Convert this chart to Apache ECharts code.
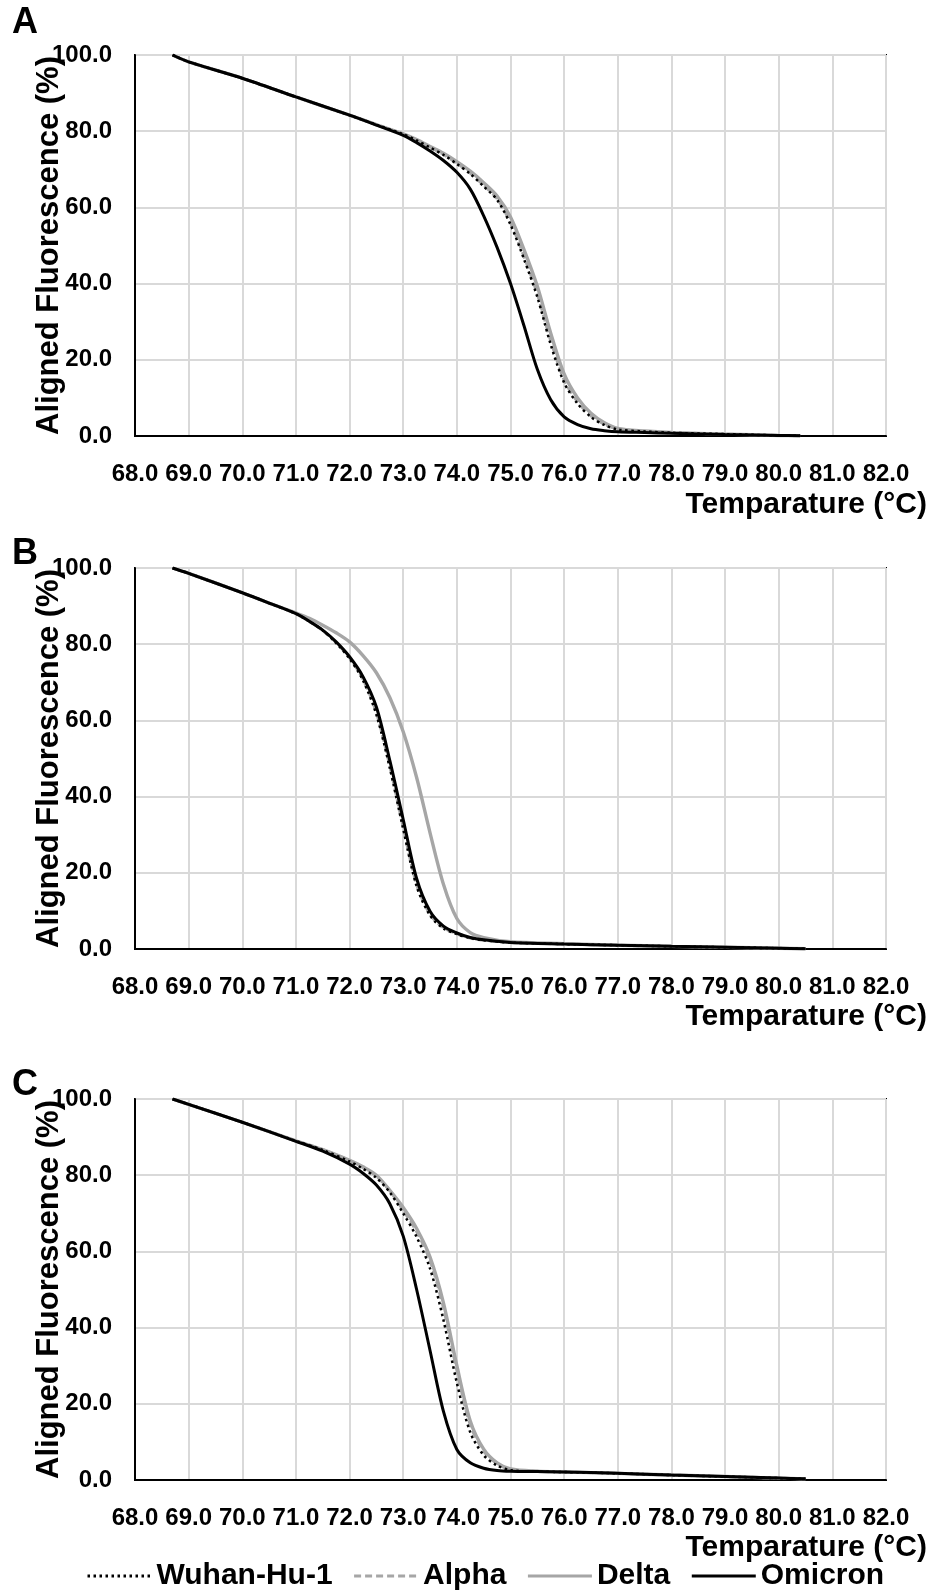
<!DOCTYPE html>
<html>
<head>
<meta charset="utf-8">
<script src="https://cdn.jsdelivr.net/npm/echarts@6/dist/echarts.min.js"></script>
<style>
html,body{margin:0;padding:0;background:#fff;}
#chart{width:931px;height:1593px;}
</style>
</head>
<body>
<div id="chart"></div>
<script>
// ---------- DATA ----------
const seriesNames = ['Wuhan-Hu-1', 'Alpha', 'Delta', 'Omicron'];
const panelLetters = ['A', 'B', 'C'];
const xTickMin = 68, xTickMax = 82, xTickStep = 1;
const yTickMin = 0, yTickMax = 100, yTickStep = 20;
const xAxisTitle = 'Temparature (°C)';
const yAxisTitle = 'Aligned Fluorescence (%)';

// Panel A
const tempA    = [68.7, 69, 70, 71, 72, 72.5, 73, 73.25, 73.5, 73.75, 74, 74.25, 74.5, 74.75, 75, 75.25, 75.5, 75.75, 76, 76.25, 76.5, 76.75, 77, 77.5, 78, 79, 80, 80.4];
const wuhanA   = [100, 98.2, 93.9, 89.0, 84.2, 81.7, 79.2, 77.6, 75.7, 73.8, 71.4, 68.8, 65.5, 62.0, 55.5, 46.5, 36.5, 24.0, 14.0, 8.5, 5.0, 2.9, 1.7, 1.2, 0.85, 0.5, 0.15, 0.05];
const alphaA   = [100, 98.2, 93.9, 89.0, 84.2, 81.7, 79.2, 77.6, 75.8, 73.9, 71.6, 69.0, 65.8, 62.3, 56.0, 47.2, 37.3, 25.0, 14.8, 9.0, 5.3, 3.1, 1.8, 1.2, 0.85, 0.5, 0.15, 0.05];
const deltaA   = [100, 98.2, 93.9, 89.0, 84.2, 81.7, 79.3, 77.8, 76.0, 74.2, 72.0, 69.5, 66.5, 63.0, 57.5, 49.0, 39.3, 27.0, 16.3, 10.0, 6.0, 3.5, 2.0, 1.3, 0.9, 0.5, 0.15, 0.05];
const omicronA = [100, 98.2, 93.9, 89.0, 84.2, 81.6, 78.9, 77.0, 74.8, 72.3, 69.2, 64.8, 57.8, 49.5, 40.0, 29.0, 17.5, 9.5, 5.0, 3.0, 1.9, 1.4, 1.1, 0.9, 0.7, 0.4, 0.15, 0.05];

// Panel B
const tempB    = [68.7, 69, 70, 70.5, 71, 71.25, 71.5, 71.75, 72, 72.25, 72.5, 72.75, 73, 73.25, 73.5, 73.75, 74, 74.25, 74.5, 75, 76, 77, 78, 79, 80, 80.5];
const wuhanB   = [100, 98.6, 93.5, 90.8, 88.0, 86.0, 83.6, 80.3, 76.2, 70.5, 61.5, 47.5, 31.5, 16.5, 8.8, 5.4, 3.9, 2.9, 2.3, 1.7, 1.3, 1.0, 0.7, 0.45, 0.2, 0.05];
const alphaB   = [100, 98.6, 93.5, 90.8, 88.0, 86.0, 83.6, 80.4, 76.4, 70.8, 62.0, 48.0, 32.0, 17.0, 9.1, 5.6, 4.0, 2.9, 2.3, 1.7, 1.3, 1.0, 0.7, 0.45, 0.2, 0.05];
const deltaB   = [100, 98.6, 93.5, 90.8, 88.2, 86.8, 85.0, 83.0, 80.6, 77.0, 72.5, 66.0, 57.0, 45.0, 30.5, 17.0, 8.0, 4.3, 3.0, 1.9, 1.4, 1.0, 0.7, 0.45, 0.2, 0.05];
const omicronB = [100, 98.6, 93.5, 90.8, 88.0, 86.0, 83.7, 80.6, 76.7, 71.5, 63.5, 49.5, 34.0, 18.5, 9.9, 6.0, 4.2, 3.0, 2.4, 1.7, 1.3, 1.0, 0.7, 0.45, 0.2, 0.05];

// Panel C
const tempC    = [68.7, 69, 70, 71, 71.5, 72, 72.25, 72.5, 72.75, 73, 73.25, 73.5, 73.75, 74, 74.25, 74.5, 74.75, 75, 75.5, 76, 77, 78, 79, 80, 80.5];
const wuhanC   = [100, 98.6, 93.9, 89.0, 86.6, 83.6, 81.7, 79.3, 75.5, 70.0, 63.8, 55.5, 42.0, 25.5, 12.5, 6.5, 3.8, 2.6, 2.2, 2.1, 1.75, 1.3, 0.9, 0.5, 0.3];
const alphaC   = [100, 98.6, 93.9, 89.0, 86.7, 83.8, 82.0, 79.8, 75.9, 70.8, 65.2, 57.6, 45.2, 28.8, 14.5, 7.6, 4.3, 2.8, 2.3, 2.1, 1.75, 1.3, 0.9, 0.5, 0.3];
const deltaC   = [100, 98.6, 93.9, 89.0, 86.7, 83.9, 82.2, 80.0, 76.0, 71.5, 66.0, 58.5, 46.5, 30.0, 15.5, 8.1, 4.5, 2.9, 2.3, 2.1, 1.75, 1.3, 0.9, 0.5, 0.3];
const omicronC = [100, 98.6, 93.9, 88.9, 86.3, 82.9, 80.5, 77.4, 72.5, 64.0, 50.0, 34.0, 18.0, 8.0, 4.5, 3.1, 2.5, 2.3, 2.2, 2.1, 1.75, 1.3, 0.9, 0.5, 0.3];

// ---------- LAYOUT / STYLE ----------
const FONT = "'Liberation Sans', Arial, sans-serif";
const GRAY = '#a6a6a6';
const panelTops = [55, 568, 1099];
const panelH = 381;
const gridLeft = 135, gridRight = 45;

const panels = [
  {temps: tempA, vals: [wuhanA, alphaA, deltaA, omicronA]},
  {temps: tempB, vals: [wuhanB, alphaB, deltaB, omicronB]},
  {temps: tempC, vals: [wuhanC, alphaC, deltaC, omicronC]}
];

const styles = {
  'Wuhan-Hu-1': {color: '#000000', width: 2.5, type: [2.5, 3.5], z: 4},
  'Alpha':      {color: GRAY,      width: 3,   type: [7, 4],     z: 3},
  'Delta':      {color: GRAY,      width: 3.4, type: 'solid',    z: 2},
  'Omicron':    {color: '#000000', width: 3,   type: 'solid',    z: 5}
};

const grids = [], xAxes = [], yAxes = [], series = [], graphics = [];

panels.forEach((p, i) => {
  grids.push({
    left: gridLeft, right: gridRight, top: panelTops[i], height: panelH,
    show: true, borderColor: '#000', borderWidth: 2, backgroundColor: 'transparent',
    outerBoundsMode: 'none'
  });
  xAxes.push({
    type: 'value', gridIndex: i, min: xTickMin, max: xTickMax, interval: xTickStep,
    axisLine: {show: true, onZero: false, lineStyle: {color: '#000', width: 2}},
    axisTick: {show: false},
    splitLine: {show: true, lineStyle: {color: '#d9d9d9', width: 2}},
    axisLabel: {
      show: true, margin: 26, color: '#000', fontSize: 24, fontWeight: 'bold', fontFamily: FONT,
      formatter: v => v.toFixed(1), hideOverlap: false, showMinLabel: true, showMaxLabel: true
    }
  });
  yAxes.push({
    type: 'value', gridIndex: i, min: yTickMin, max: yTickMax, interval: yTickStep,
    axisLine: {show: true, lineStyle: {color: '#000', width: 2}},
    axisTick: {show: false},
    splitLine: {show: true, lineStyle: {color: '#d9d9d9', width: 2}},
    axisLabel: {
      show: true, margin: 23, color: '#000', fontSize: 24, fontWeight: 'bold', fontFamily: FONT,
      formatter: v => v.toFixed(1)
    },
    name: yAxisTitle, nameLocation: 'middle', nameGap: 70, nameMoveOverlap: false,
    nameTextStyle: {color: '#000', fontSize: 31, fontWeight: 'bold', fontFamily: FONT}
  });
  seriesNames.forEach((name, k) => {
    const st = styles[name];
    series.push({
      name: name, type: 'line', xAxisIndex: i, yAxisIndex: i,
      data: p.temps.map((t, j) => [t, p.vals[k][j]]),
      showSymbol: false, symbol: 'none', smooth: 0.3,
      z: st.z, animation: false,
      lineStyle: {color: st.color, width: st.width, type: st.type},
      itemStyle: {color: st.color}
    });
  });
  const letterY = [23, 554, 1085][i];
  graphics.push({
    type: 'text', left: 12, top: letterY - 18,
    style: {text: panelLetters[i], fill: '#000', font: 'bold 36px ' + FONT}
  });
  const xtY = [505, 1017, 1548][i];
  graphics.push({
    type: 'text', x: 927, y: xtY,
    style: {text: xAxisTitle, fill: '#000', font: 'bold 30px ' + FONT, textAlign: 'right', textVerticalAlign: 'middle'}
  });
});

const chart = echarts.init(document.getElementById('chart'), null, {renderer: 'canvas'});
chart.setOption({
  animation: false,
  backgroundColor: '#fff',
  grid: grids,
  xAxis: xAxes,
  yAxis: yAxes,
  series: series,
  graphic: graphics,
  legend: {
    show: true,
    data: seriesNames,
    left: 86, top: 1561, padding: 0,
    itemWidth: 64, itemHeight: 14, itemGap: 20,
    itemStyle: {opacity: 0},
    lineStyle: {width: 3},
    textStyle: {color: '#000', fontSize: 30, fontWeight: 'bold', fontFamily: FONT}
  }
});
</script>
</body>
</html>
